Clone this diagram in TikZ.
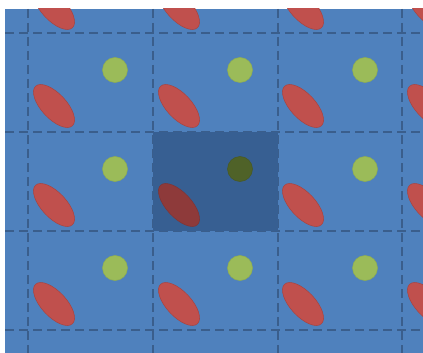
\documentclass[tikz,border=0pt]{standalone}
\definecolor{bgblue}{HTML}{4F81BD}
\definecolor{gridc}{HTML}{3A5E8C}
\definecolor{greenc}{HTML}{9BBB59}
\definecolor{greenl}{HTML}{8FAE50}
\definecolor{redc}{HTML}{C0504D}
\definecolor{redl}{HTML}{A9433F}
\definecolor{darkcell}{HTML}{375F92}
\definecolor{darkgreen}{HTML}{4F6228}
\definecolor{darkred}{HTML}{8E3A3A}
\tikzset{
  gridline/.style={draw=gridc, line width=2.2pt, dash pattern=on 9pt off 5pt},
  dot/.style={fill=greenc, draw=greenl, line width=0.5pt},
  blob/.style={fill=redc, draw=redl, line width=0.5pt},
}
\begin{document}
\begin{tikzpicture}[x=1pt,y=-1pt]
\useasboundingbox (0,0) rectangle (423,353);
\fill[white] (0,0) rectangle (423,353);
\begin{scope}
\clip (5,9) rectangle (423,353);
\fill[bgblue] (5,9) rectangle (423,353);
\foreach \gy in {33,132,231,330} \draw[gridline] (5,\gy) -- (423,\gy);
\foreach \gx in {28,153,278,402} \draw[gridline] (\gx,9) -- (\gx,353);
\foreach \cx in {115,240,365} \foreach \cy in {70,169,268}
  \path[dot] (\cx,\cy) circle[radius=12.5];
\foreach \ex in {54,179,303,428} \foreach \ey in {8,106,205,304}
  \path[blob, rotate around={-47:(\ex,\ey)}] (\ex,\ey) ellipse[x radius=27, y radius=12.5];
\fill[darkcell] (153,132) rectangle (278,231);
\path[fill=darkgreen, draw=darkgreen!90!black, line width=0.5pt] (240,169) circle[radius=12.5];
\path[fill=darkred, draw=darkred!90!black, line width=0.5pt, rotate around={-47:(179,205)}] (179,205) ellipse[x radius=27, y radius=12.5];
\end{scope}
\end{tikzpicture}
\end{document}
